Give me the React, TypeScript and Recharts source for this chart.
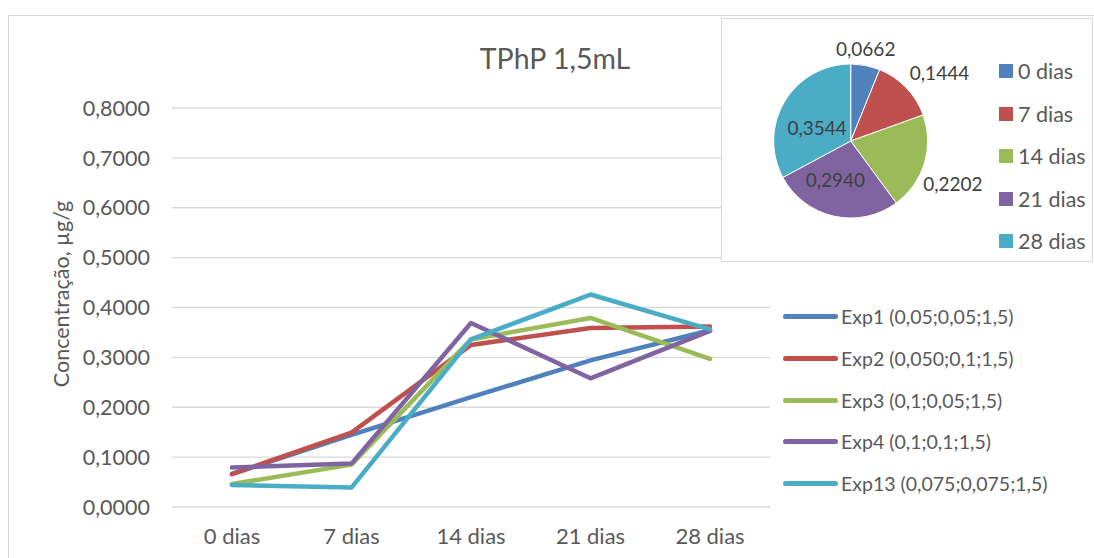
import React from 'react';
import { LineChart, Line, XAxis, YAxis, CartesianGrid, PieChart, Pie, Cell } from 'recharts';

// Sampling days
const categories = ['0 dias', '7 dias', '14 dias', '21 dias', '28 dias'];

// TPhP concentration (µg/g) per experiment
const exp1 = [0.0662, 0.1444, 0.2202, 0.294, 0.3544];
const exp2 = [0.066, 0.149, 0.325, 0.359, 0.362];
const exp3 = [0.046, 0.085, 0.336, 0.379, 0.297];
const exp4 = [0.079, 0.087, 0.369, 0.258, 0.353];
const exp13 = [0.044, 0.039, 0.336, 0.426, 0.356];

const seriesNames = [
  'Exp1 (0,05;0,05;1,5)',
  'Exp2 (0,050;0,1;1,5)',
  'Exp3 (0,1;0,05;1,5)',
  'Exp4 (0,1;0,1;1,5)',
  'Exp13 (0,075;0,075;1,5)',
];
const seriesValues = [exp1, exp2, exp3, exp4, exp13];

const yTicks = [0, 0.1, 0.2, 0.3, 0.4, 0.5, 0.6, 0.7, 0.8];

const COLORS = ['#4F81BD', '#C0504D', '#9BBB59', '#8064A2', '#4BACC6'];
const TEXT = '#595959';
const FONT = 'Lato, "Open Sans", sans-serif';

const lineData = categories.map((name, i) => {
  const row: Record<string, string | number> = { name };
  seriesNames.forEach((s, j) => {
    row[s] = seriesValues[j][i];
  });
  return row;
});

// pie of Exp1 by day
const pieData = categories.map((name, i) => ({ name, value: exp1[i] }));

// label placement for the pie (radius from centre, then a small nudge)
const labelRadius = [94, 112, 111, 42, 38];
const labelNudge = [
  [-3, 0],
  [8, 9],
  [-4, 10],
  [-6, -2],
  [-1, 6],
];

const fmt = (v: number) => v.toFixed(4).replace('.', ',');

const RAD = Math.PI / 180;

const renderPieLabel = (props: any) => {
  const { cx, cy, midAngle, index, value } = props;
  const r = labelRadius[index];
  const x = cx + r * Math.cos(-midAngle * RAD) + labelNudge[index][0];
  const y = cy + r * Math.sin(-midAngle * RAD) + labelNudge[index][1];
  return (
    <text x={x} y={y} fill="#404040" fontSize={19} fontFamily={FONT} textAnchor="middle" dominantBaseline="central">
      {fmt(value)}
    </text>
  );
};

const LineLegend = () => (
  <div style={{ position: 'absolute', left: 783, top: 296 }}>
    {seriesNames.map((s, i) => (
      <div key={s} style={{ height: 41.7, display: 'flex', alignItems: 'center' }}>
        <div style={{ width: 55, height: 5, borderRadius: 3, background: COLORS[i], marginRight: 3 }} />
        <span style={{ fontSize: 19.5, color: TEXT, whiteSpace: 'nowrap' }}>{s}</span>
      </div>
    ))}
  </div>
);

const PieLegend = () => (
  <div style={{ position: 'absolute', left: 999, top: 50 }}>
    {categories.map((c, i) => (
      <div key={c} style={{ height: 42.5, display: 'flex', alignItems: 'center' }}>
        <div style={{ width: 14, height: 14, background: COLORS[i], marginRight: 5 }} />
        <span style={{ fontSize: 21.5, color: TEXT, whiteSpace: 'nowrap' }}>{c}</span>
      </div>
    ))}
  </div>
);

export default function App() {
  return (
    <div
      style={{
        position: 'fixed',
        left: 0,
        top: 0,
        width: 1094,
        height: 558,
        background: '#fff',
        overflow: 'hidden',
        fontFamily: FONT,
      }}
    >
      {/* chart frame */}
      <div
        style={{
          position: 'absolute',
          left: 8,
          top: 15,
          width: 1200,
          height: 600,
          border: '1.5px solid #D9D9D9',
        }}
      />

      <div style={{ position: 'absolute', left: 0, top: 0 }}>
        <LineChart width={1094} height={558} data={lineData} margin={{ top: 108, right: 324, bottom: 0, left: 0 }}>
          <CartesianGrid vertical={false} stroke="#D9D9D9" strokeWidth={1.3} />
          <XAxis
            dataKey="name"
            axisLine={false}
            tickLine={false}
            tickSize={0}
            tickMargin={21}
            padding={{ left: 60, right: 60 }}
            tick={{ fill: TEXT, fontSize: 22, fontFamily: FONT }}
            height={51}
          />
          <YAxis
            width={172}
            domain={[0, 0.8]}
            ticks={yTicks}
            axisLine={false}
            tickLine={false}
            tickSize={0}
            tickMargin={22}
            tickFormatter={fmt}
            tick={{ fill: TEXT, fontSize: 21.5, fontFamily: FONT }}
          />
          {seriesNames.map((s, i) => (
            <Line
              key={s}
              type="linear"
              dataKey={s}
              stroke={COLORS[i]}
              strokeWidth={4.5}
              strokeLinecap="round"
              strokeLinejoin="round"
              dot={false}
              isAnimationActive={false}
            />
          ))}
        </LineChart>
      </div>

      <LineLegend />

      {/* title */}
      <div
        style={{
          position: 'absolute',
          left: 555,
          top: 58,
          transform: 'translate(-50%, -50%)',
          fontSize: 28.5,
          color: TEXT,
          whiteSpace: 'nowrap',
        }}
      >
        TPhP 1,5mL
      </div>

      {/* y axis title */}
      <div
        style={{
          position: 'absolute',
          left: 61,
          top: 294,
          transform: 'translate(-50%, -50%) rotate(-90deg)',
          fontSize: 21.5,
          color: TEXT,
          whiteSpace: 'nowrap',
        }}
      >
        Concentração, µg/g
      </div>

      {/* pie inset */}
      <div
        style={{
          position: 'absolute',
          left: 721,
          top: 18,
          width: 372,
          height: 244,
          background: '#fff',
          border: '1.5px solid #D9D9D9',
          boxSizing: 'border-box',
        }}
      />
      <div style={{ position: 'absolute', left: 722, top: 18 }}>
        <PieChart width={372} height={245} margin={{ top: 0, right: 0, bottom: 0, left: 0 }}>
          <Pie
            data={pieData}
            dataKey="value"
            nameKey="name"
            cx={128.7}
            cy={123}
            outerRadius={77}
            startAngle={90}
            endAngle={-270}
            stroke="#fff"
            strokeWidth={1}
            label={renderPieLabel}
            labelLine={false}
            isAnimationActive={false}
          >
            {pieData.map((d, i) => (
              <Cell key={d.name} fill={COLORS[i]} />
            ))}
          </Pie>
        </PieChart>
      </div>
      <PieLegend />
    </div>
  );
}
